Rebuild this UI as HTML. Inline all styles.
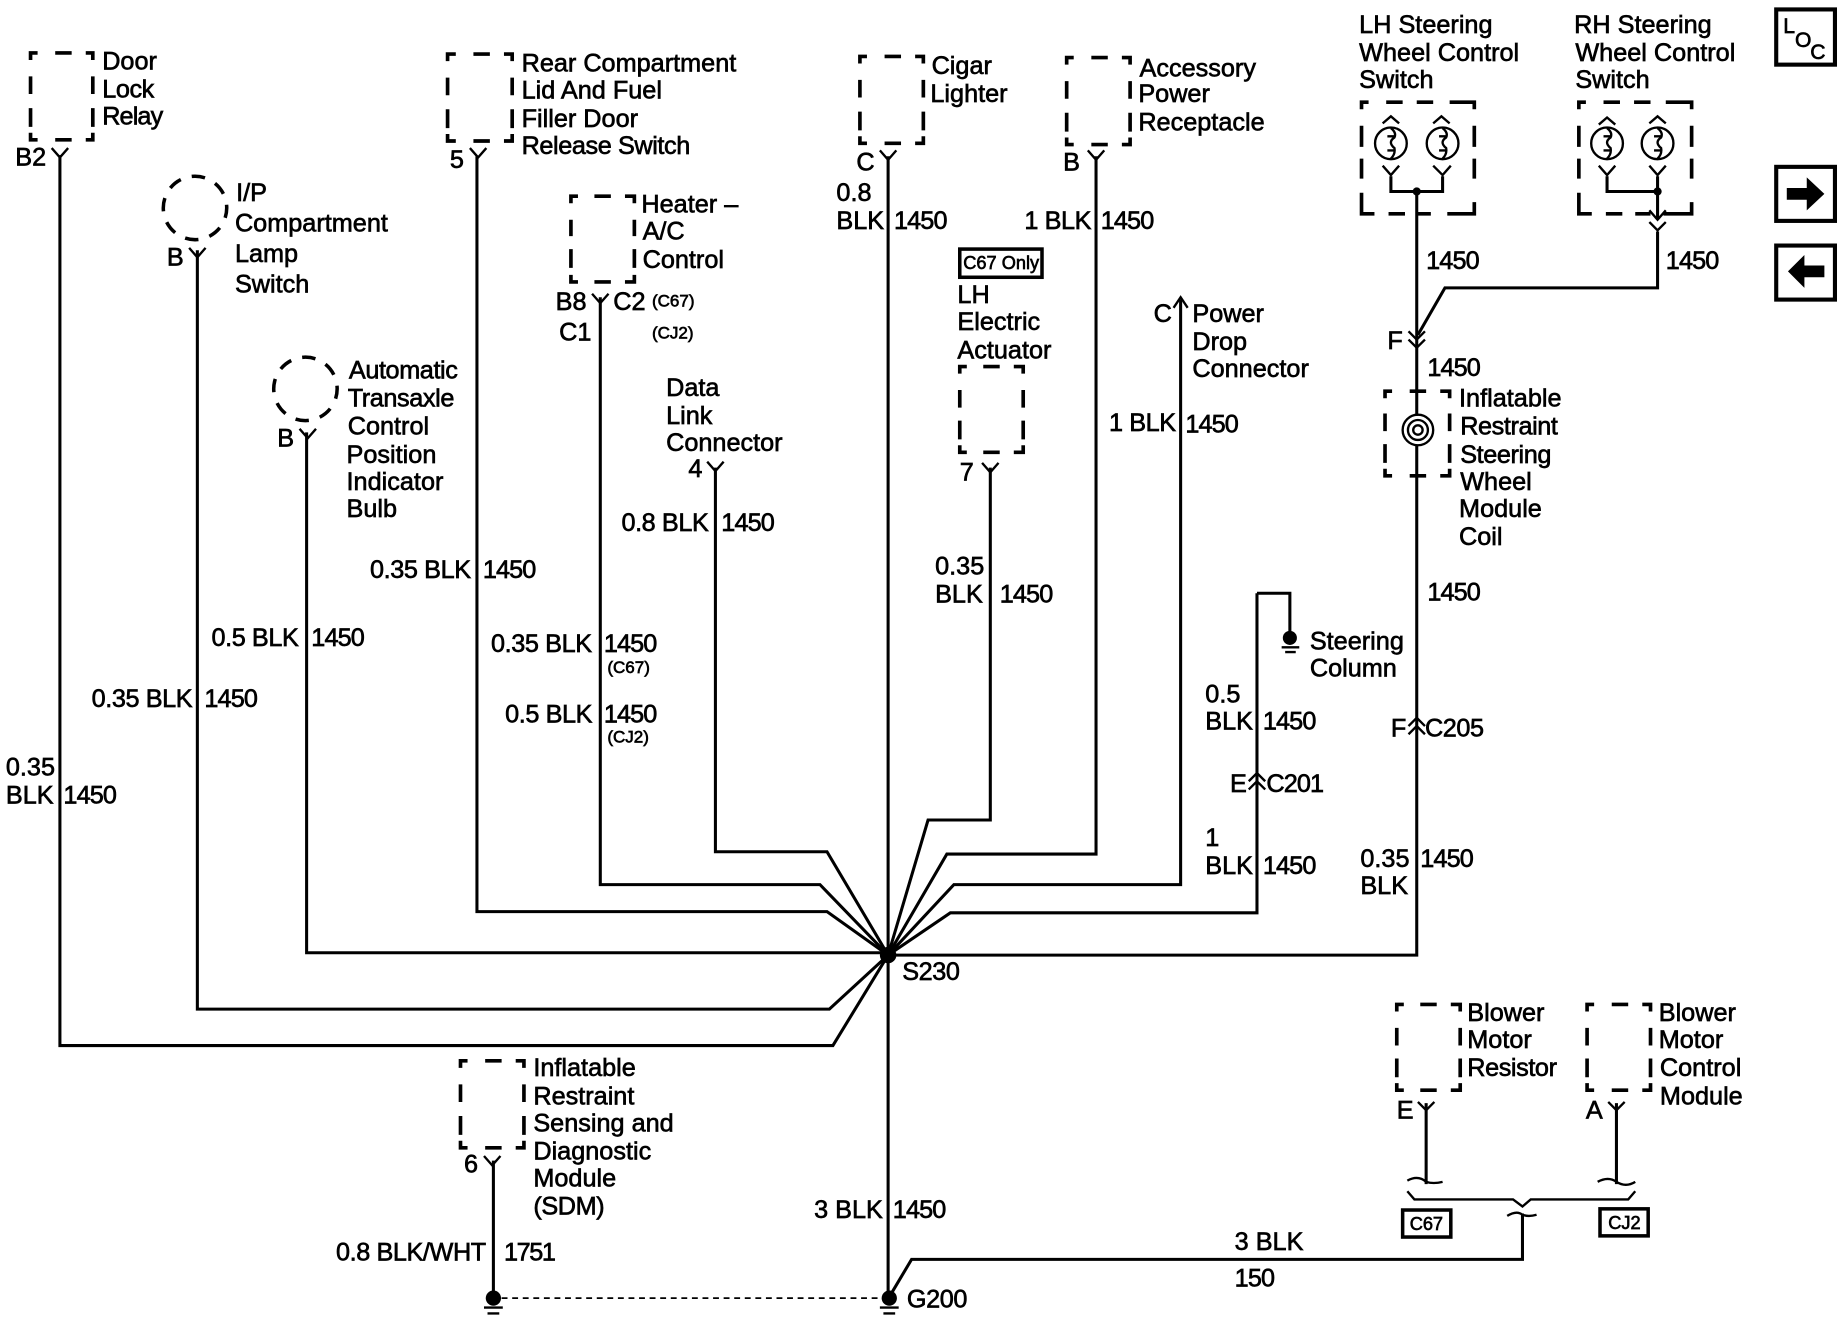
<!DOCTYPE html>
<html><head><meta charset="utf-8"><style>
html,body{margin:0;padding:0;background:#fff}
svg{display:block}
text{font-family:"Liberation Sans",sans-serif;font-size:21.5px;fill:#000;stroke:#000;stroke-width:.55}
.s{font-size:14.5px}.m{font-size:15.5px}
.n{letter-spacing:-.75px}
.k{letter-spacing:-.35px}
.w{fill:none;stroke:#000;stroke-width:2.6}
.t{fill:none;stroke:#000;stroke-width:2}
.d{fill:none;stroke:#000;stroke-width:3.1}
</style></head><body>
<svg width="1842" height="1328" viewBox="0 0 1568 1130.4" xmlns="http://www.w3.org/2000/svg">
<rect width="1568" height="1131" fill="#fff"/>
<!-- wires -->
<g class="w">
<path d="M51 132V890H709L756 813"/>
<path d="M168 213V859H706L756 813"/>
<path d="M261 368V811H756"/>
<path d="M406 133V776H704L756 813"/>
<path d="M511 253V753H698L756 813"/>
<path d="M609 398V725H704L756 813"/>
<path d="M843 398V698H790L756 813"/>
<path d="M933 133V727H806L756 813"/>
<path d="M1005 255V753H812L756 813"/>
<path d="M1070 505V777H809L756 813"/>
<path d="M1206 163V354M1206 379V813H756"/>
<path d="M756 133V1103"/>
<path d="M1070 505H1098V538"/>
<path d="M1296 1033V1072H776L757 1104"/>
<path d="M420 988V1100" />
<path d="M1214 939V1008M1376 939V1008"/>
<path d="M1184 150V163H1228V150M1368 150V163H1411V150M1411 150V186M1411 197V245H1230L1207 285"/>
</g>
<circle cx="756" cy="813" r="7"/>
<circle cx="1206" cy="163" r="3.5"/><circle cx="1411" cy="163" r="3.5"/>
<!-- Y connectors -->
<g class="t">
<path d="M44 126L51 134L58 126M400 126L407 134L414 126M161 211L168 219L175 211M255 365L262 373L269 365M504 250L511 258L518 250M602 393L609 401L616 393M749 128L756 136L763 128M926 128L933 136L940 128M836 394L843 402L850 394M1207 938L1214 945L1221 938M1369 938L1376 945L1383 938M412 984L419 992L426 984"/>
<path d="M1177 141L1184 149L1191 141M1220 141L1228 149L1235 141M1361 141L1368 149L1375 141M1404 141L1411 149L1418 141M1404 179L1411 187L1418 179M1404 189L1411 196L1418 189"/>
<path d="M1199 282L1206 289L1213 282M1199 289L1206 296L1213 289"/>
<path d="M1199 618L1206 611L1213 618M1199 625L1206 618L1213 625M1063 665L1070 658L1077 665M1063 672L1070 665L1077 672"/>
<path d="M999 262L1005 253L1011 262"/>
<path d="M1177 105L1184 99L1191 105M1220 105L1227 99L1234 105M1361 106L1368 100L1375 106M1404 105L1411 99L1418 105"/>
<path d="M1198 1005Q1207 1000 1214 1006Q1220 1008 1228 1006M1360 1006Q1369 1001 1376 1006Q1384 1011 1392 1006"/>
<path d="M1198 1014L1204 1021H1288L1296 1027L1303 1021H1386L1392 1014"/>
<path d="M1283 1035Q1291 1030 1296 1034Q1301 1036 1308 1034"/>
</g>
<!-- dashed boxes -->
<g class="d">
<path d="M26 51V45H32M47 45H61M73 45H79V51M26 65V80M26 92V108M26 113V119H32M47 119H61M73 119H79V113M79 65V80M79 92V108"/>
<path d="M381 52V46H388M403 46H417M429 46H436V52M381 66V81M381 93V109M381 114V120H388M403 120H417M429 120H436V114M436 66V81M436 93V109"/>
<path d="M486 173V167H492M506 167H520M532 167H540V173M486 187V201M486 212V228M486 234V240H492M506 240H520M532 240H540V234M540 187V201M540 212V228"/>
<path d="M732 54V48H738M753 48H767M779 48H786V54M732 68V83M732 95V111M732 116V122H738M753 122H767M779 122H786V116M786 68V83M786 95V111"/>
<path d="M908 55V49H914M929 49H943M955 49H962V55M908 69V84M908 96V112M908 117V123H914M929 123H943M955 123H962V117M962 69V84M962 96V112"/>
<path d="M817 318V312H823M837 312H851M863 312H871V318M817 332V347M817 358V374M817 379V385H823M837 385H851M863 385H871V379M871 332V347M871 358V374"/>
<path d="M1179 339V333H1185M1200 333H1214M1226 333H1234V339M1179 352V367M1179 378V394M1179 399V405H1185M1200 405H1214M1226 405H1234V399M1234 352V367M1234 378V394"/>
<path d="M392 909V903H398M413 903H427M439 903H446V909M392 923V938M392 950V966M392 971V977H398M413 977H427M439 977H446V971M446 923V938M446 950V966"/>
<path d="M1189 861V855H1195M1209 855H1223M1235 855H1243V861M1189 875V890M1189 901V917M1189 922V928H1195M1209 928H1223M1235 928H1243V922M1243 875V890M1243 901V917"/>
<path d="M1351 861V855H1357M1372 855H1386M1398 855H1405V861M1351 875V890M1351 901V917M1351 922V928H1357M1372 928H1386M1398 928H1405V922M1405 875V890M1405 901V917"/>
<path d="M1159 93V87H1165M1180 87H1194M1206 87H1220M1234 87H1248H1255V93M1159 107V125M1159 135V152M1159 164V182H1170M1182 182H1196M1205 182H1218M1232 182H1255V172M1255 107V125M1255 135V152"/>
<path d="M1344 93V87H1350M1365 87H1379M1391 87H1405M1418 87H1433H1440V93M1344 107V125M1344 135V152M1344 164V182H1355M1367 182H1381M1392 182H1405M1416 182H1440V172M1440 107V125M1440 135V152"/>
<circle cx="166" cy="177" r="27" stroke-width="3" stroke-dasharray="11.5 9.7" stroke-dashoffset="3"/>
<circle cx="260" cy="331" r="27" stroke-width="3" stroke-dasharray="11.5 9.7" stroke-dashoffset="3"/>
</g>
<!-- switches -->
<g class="t">
<circle cx="1184" cy="122" r="13.5"/><circle cx="1228" cy="122" r="13.5"/><circle cx="1368" cy="122" r="13.5"/><circle cx="1411" cy="122" r="13.5"/>
<path d="M1184 109Q1189 113 1187 117Q1181 121 1187 126Q1188 131 1184 135M1181 116H1187M1181 128H1187M1228 109Q1233 113 1231 117Q1225 121 1231 126Q1232 131 1228 135M1225 116H1231M1225 128H1231M1368 109Q1373 113 1371 117Q1365 121 1371 126Q1372 131 1368 135M1365 116H1371M1365 128H1371M1411 109Q1416 113 1414 117Q1408 121 1414 126Q1415 131 1411 135M1408 116H1414M1408 128H1414"/>
<circle cx="1207" cy="366" r="13"/><circle cx="1207" cy="366" r="8.5"/><circle cx="1207" cy="366" r="4"/>
</g>
<!-- grounds -->
<circle cx="1098" cy="543" r="6"/><circle cx="420" cy="1105" r="6.5"/><circle cx="757" cy="1105" r="6.5"/>
<g class="t">
<path d="M1091 551H1106M1094 555H1103M412 1113H428M415 1118H425M749 1113H765M752 1118H762"/>
<path d="M427 1105H750" stroke-dasharray="5 4" stroke-width="1.4"/>
</g>
<!-- boxes -->
<g fill="none" stroke="#000">
<rect x="817" y="212" width="70" height="24" stroke-width="3"/>
<rect x="1194" y="1030" width="41" height="23" stroke-width="3"/>
<rect x="1362" y="1029" width="41" height="23" stroke-width="3"/>
<rect x="1512" y="8" width="50" height="47" stroke-width="3.5"/>
<rect x="1512" y="142" width="50" height="46" stroke-width="3.5"/>
<rect x="1512" y="209" width="50" height="46" stroke-width="3.5"/>
</g>
<path d="M1521 160H1538V151L1553 165L1538 179V170H1521Z"/>
<path d="M1553 226H1536V217L1522 231L1536 245V236H1553Z"/>
<!-- labels -->
<g>
<text x="87" y="59">Door</text><text x="87" y="83" class="k">Lock</text><text x="87" y="106" class="n">Relay</text><text x="13" y="141">B2</text>
<text x="444" y="61">Rear Compartment</text><text x="444" y="84">Lid And Fuel</text><text x="444" y="108">Filler Door</text><text x="444" y="131" class="k">Release Switch</text><text x="383" y="143">5</text>
<text x="201" y="171">I/P</text><text x="200" y="197">Compartment</text><text x="200" y="223">Lamp</text><text x="200" y="249">Switch</text><text x="142" y="226">B</text>
<text x="297" y="322" class="k">Automatic</text><text x="296" y="346" class="k">Transaxle</text><text x="296" y="370">Control</text><text x="295" y="394">Position</text><text x="295" y="417">Indicator</text><text x="295" y="440">Bulb</text><text x="236" y="380">B</text>
<text x="546" y="181">Heater –</text><text x="547" y="204">A/C</text><text x="547" y="228">Control</text><text x="473" y="264">B8</text><text x="522" y="264">C2</text><text class="s" x="555" y="261">(C67)</text><text x="476" y="290">C1</text><text class="s" x="555" y="288">(CJ2)</text>
<text x="567" y="337">Data</text><text x="567" y="361">Link</text><text x="567" y="384">Connector</text><text x="586" y="406">4</text>
<text x="793" y="63">Cigar</text><text x="792" y="87">Lighter</text><text x="729" y="145">C</text><text x="712" y="171">0.8</text><text x="712" y="195">BLK</text><text x="761" y="195" class="n">1450</text>
<text x="970" y="65">Accessory</text><text x="969" y="87">Power</text><text x="969" y="111">Receptacle</text><text x="905" y="145">B</text><text x="872" y="195" class="k">1 BLK</text><text x="937" y="195" class="n">1450</text>
<text class="m" x="820" y="229">C67 Only</text><text x="815" y="258">LH</text><text x="815" y="281">Electric</text><text x="815" y="305">Actuator</text><text x="817" y="409">7</text>
<text x="982" y="274">C</text><text x="1015" y="274">Power</text><text x="1015" y="298">Drop</text><text x="1015" y="321">Connector</text><text x="944" y="367" class="k">1 BLK</text><text x="1009" y="368" class="n">1450</text>
<text x="1157" y="28">LH Steering</text><text x="1157" y="52">Wheel Control</text><text x="1157" y="75">Switch</text>
<text x="1340" y="28">RH Steering</text><text x="1341" y="52">Wheel Control</text><text x="1341" y="75">Switch</text>
<text x="1214" y="229" class="n">1450</text><text x="1418" y="229" class="n">1450</text><text x="1181" y="297">F</text><text x="1215" y="320" class="n">1450</text>
<text x="1242" y="346">Inflatable</text><text x="1243" y="370" class="k">Restraint</text><text x="1243" y="394" class="k">Steering</text><text x="1243" y="417">Wheel</text><text x="1242" y="440">Module</text><text x="1242" y="464">Coil</text><text x="1215" y="511" class="n">1450</text>
<text x="1115" y="553">Steering</text><text x="1115" y="576">Column</text>
<text x="315" y="492" class="k">0.35 BLK</text><text x="411" y="492" class="n">1450</text><text x="529" y="452" class="k">0.8 BLK</text><text x="614" y="452" class="n">1450</text>
<text x="796" y="489">0.35</text><text x="796" y="513">BLK</text><text x="851" y="513" class="n">1450</text>
<text x="180" y="550" class="k">0.5 BLK</text><text x="265" y="550" class="n">1450</text><text x="78" y="602" class="k">0.35 BLK</text><text x="174" y="602" class="n">1450</text>
<text x="5" y="660">0.35</text><text x="5" y="684">BLK</text><text x="54" y="684" class="n">1450</text>
<text x="418" y="555" class="k">0.35 BLK</text><text x="514" y="555" class="n">1450</text><text class="s" x="517" y="573">(C67)</text>
<text x="430" y="615" class="k">0.5 BLK</text><text x="514" y="615" class="n">1450</text><text class="s" x="517" y="632">(CJ2)</text>
<text x="1026" y="598">0.5</text><text x="1026" y="621">BLK</text><text x="1075" y="621" class="n">1450</text>
<text x="1047" y="674">E</text><text x="1078" y="674" class="n">C201</text><text x="1184" y="627">F</text><text x="1213" y="627" class="k">C205</text>
<text x="1026" y="720">1</text><text x="1026" y="744">BLK</text><text x="1075" y="744" class="n">1450</text>
<text x="1158" y="738">0.35</text><text x="1158" y="761">BLK</text><text x="1209" y="738" class="n">1450</text><text x="768" y="834" class="k">S230</text>
<text x="1249" y="869">Blower</text><text x="1249" y="892">Motor</text><text x="1249" y="916" class="k">Resistor</text><text x="1189" y="952">E</text>
<text x="1412" y="869">Blower</text><text x="1412" y="892">Motor</text><text x="1413" y="916">Control</text><text x="1413" y="940">Module</text><text x="1350" y="952">A</text>
<text x="454" y="916">Inflatable</text><text x="454" y="940">Restraint</text><text x="454" y="963">Sensing and</text><text x="454" y="987">Diagnostic</text><text x="454" y="1010">Module</text><text x="454" y="1034" class="k">(SDM)</text><text x="395" y="998">6</text>
<text x="286" y="1073" class="k">0.8 BLK/WHT</text><text x="429" y="1073" style="letter-spacing:-1.2px">1751</text><text x="693" y="1037">3 BLK</text><text x="760" y="1037" class="n">1450</text><text x="772" y="1113" class="k">G200</text>
<text x="1051" y="1064">3 BLK</text><text x="1051" y="1095" class="n">150</text>
<text class="m" x="1200" y="1047">C67</text><text class="m" x="1369" y="1046">CJ2</text>
<text x="1518" y="28" style="font-size:18px">L</text><text x="1528" y="40" style="font-size:18px">O</text><text x="1541" y="50" style="font-size:18px">C</text>
</g>
</svg>
</body></html>
